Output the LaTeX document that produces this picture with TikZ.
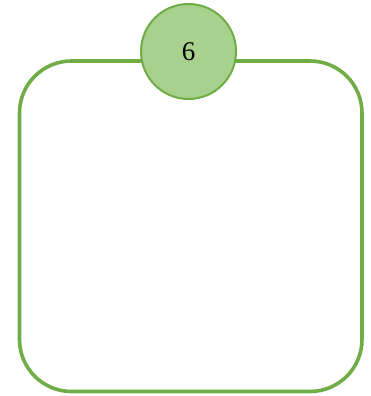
\documentclass[tikz,border=0pt]{standalone}
\usepackage{fontspec}
\setmainfont{Liberation Serif}
\definecolor{gstroke}{HTML}{70AD47}
\definecolor{gfill}{HTML}{A9D18E}
\begin{document}
\begin{tikzpicture}[x=1pt,y=1pt,
  frame/.style={draw=gstroke, line width=3.6pt, rounded corners=52pt, minimum width=342.5pt, minimum height=330.5pt, inner sep=0pt},
  badge/.style={circle, draw=gstroke, fill=gfill, line width=2pt, minimum size=95pt, inner sep=0pt, font=\fontsize{27}{30}\selectfont}]
\useasboundingbox (0,0) rectangle (370,396);
\node[frame] (box) at (190.75,169.75) {};
\node[badge] (num) at (188.5,344.5) {6};
\end{tikzpicture}
\end{document}
